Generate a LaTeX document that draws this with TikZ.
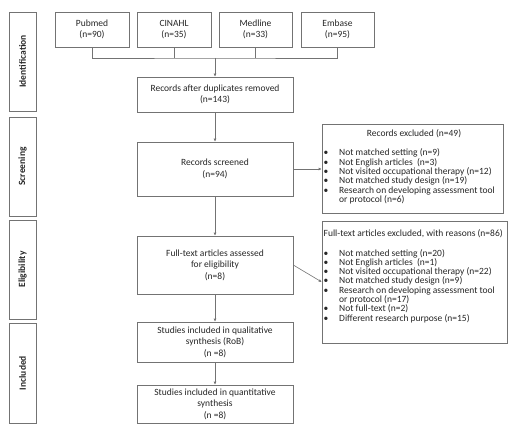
\documentclass[tikz,border=0pt]{standalone}
\usepackage{fontspec}
\setmainfont{Carlito}
\usetikzlibrary{arrows.meta}
\begin{document}
\begin{tikzpicture}[x=1pt,y=-1pt,
  line/.style={draw=black!55, line width=0.6pt},
  box/.style={line, inner sep=0pt, align=center, font=\fontsize{9.5}{11.5}\selectfont, text=black!85},
  stage/.style={line, inner sep=0pt, rotate=90, minimum height=27pt, font=\fontsize{9.5}{11}\selectfont\bfseries, text=black!85},
  txt/.style={inner sep=0pt, font=\fontsize{9.5}{9.3}\selectfont, text=black!85},
  arr/.style={line, -{Latex[length=3pt,width=3pt]}},
]
\useasboundingbox (0,0) rectangle (514,425);

% stage labels
\node[stage, minimum width=99pt] (sid) at (22.5,61.5) {Identification};
\node[stage, minimum width=99pt] (ssc) at (22.5,166.5) {Screening};
\node[stage, minimum width=99pt] (sel) at (22.5,269.5) {Eligibility};
\node[stage, minimum width=100pt] (sin) at (22.5,373) {Included};

% databases
\node[box, minimum width=74pt, minimum height=35pt] (pub) at (92,29.5) {Pubmed\\(n=90)};
\node[box, minimum width=74pt, minimum height=35pt] (cin) at (174,29.5) {CINAHL\\(n=35)};
\node[box, minimum width=73pt, minimum height=35pt] (med) at (255.5,29.5) {Medline\\(n=33)};
\node[box, minimum width=73pt, minimum height=35pt] (emb) at (337.5,29.5) {Embase\\(n=95)};

% main flow
\node[box, minimum width=156pt, minimum height=35pt] (dup) at (215,94.5) {Records after duplicates removed\\(n=143)};
\node[box, minimum width=156pt, minimum height=54pt] (scr) at (215,169) {Records screened\\(n=94)};
\node[box, minimum width=156pt, minimum height=58pt] (ft) at (215,265) {Full-text articles assessed\\for eligibility\\(n=8)};
\node[box, minimum width=156pt, minimum height=40pt] (qual) at (215,342) {Studies included in qualitative\\synthesis (RoB)\\(n =8)};
\node[box, minimum width=156pt, minimum height=38pt] (quant) at (215,404) {Studies included in quantitative\\synthesis\\(n =8)};

% exclusion boxes
\node[line, inner sep=0pt, minimum width=181pt, minimum height=89pt] (ex1) at (412.5,168.5) {};
\node[txt, anchor=base] (ex1t) at (414,136) {Records excluded (n=49)};
\node[txt, anchor=base west] (ex1l) at (323.5,156) {\parbox[t]{178pt}{\fontsize{9.5}{9.3}\selectfont\raggedright
\makebox[15.5pt][l]{\textbullet}Not matched setting (n=9)\\
\makebox[15.5pt][l]{\textbullet}Not English articles\ \ (n=3)\\
\makebox[15.5pt][l]{\textbullet}Not visited occupational therapy (n=12)\\
\makebox[15.5pt][l]{\textbullet}Not matched study design (n=19)\\
\makebox[15.5pt][l]{\textbullet}Research on developing assessment tool\\
\hspace*{15.5pt}or protocol (n=6)}};

\node[line, inner sep=0pt, minimum width=185pt, minimum height=122pt] (ex2) at (414.5,282) {};
\node[txt, anchor=base west] (ex2t) at (323.5,236) {Full-text articles excluded, with reasons (n=86)};
\node[txt, anchor=base west] (ex2l) at (323.5,256) {\parbox[t]{180pt}{\fontsize{9.5}{9.3}\selectfont\raggedright
\makebox[15.5pt][l]{\textbullet}Not matched setting (n=20)\\
\makebox[15.5pt][l]{\textbullet}Not English articles\ \ (n=1)\\
\makebox[15.5pt][l]{\textbullet}Not visited occupational therapy (n=22)\\
\makebox[15.5pt][l]{\textbullet}Not matched study design (n=9)\\
\makebox[15.5pt][l]{\textbullet}Research on developing assessment tool\\
\hspace*{15.5pt}or protocol (n=17)\\
\makebox[15.5pt][l]{\textbullet}Not full-text (n=2)\\
\makebox[15.5pt][l]{\textbullet}Different research purpose (n=15)}};

% connectors
\coordinate (j) at (215,58);
\draw[line] (pub.south) |- (j) -| (emb.south);
\draw[line] (cin.south) -- (cin.south |- j);
\draw[line] (med.south) -- (med.south |- j);
\draw[arr] (j) -- (dup.north);
\draw[arr] (dup.south) -- (scr.north);
\draw[arr] (scr.south) -- (ft.north);
\draw[arr] (ft.south) -- (qual.north);
\draw[arr] (qual.south) -- (quant.north);
\draw[arr] (scr.east) -- (scr.east -| ex1.west);
\draw[arr] (ft.east) -- (ex2.west);
\end{tikzpicture}
\end{document}
